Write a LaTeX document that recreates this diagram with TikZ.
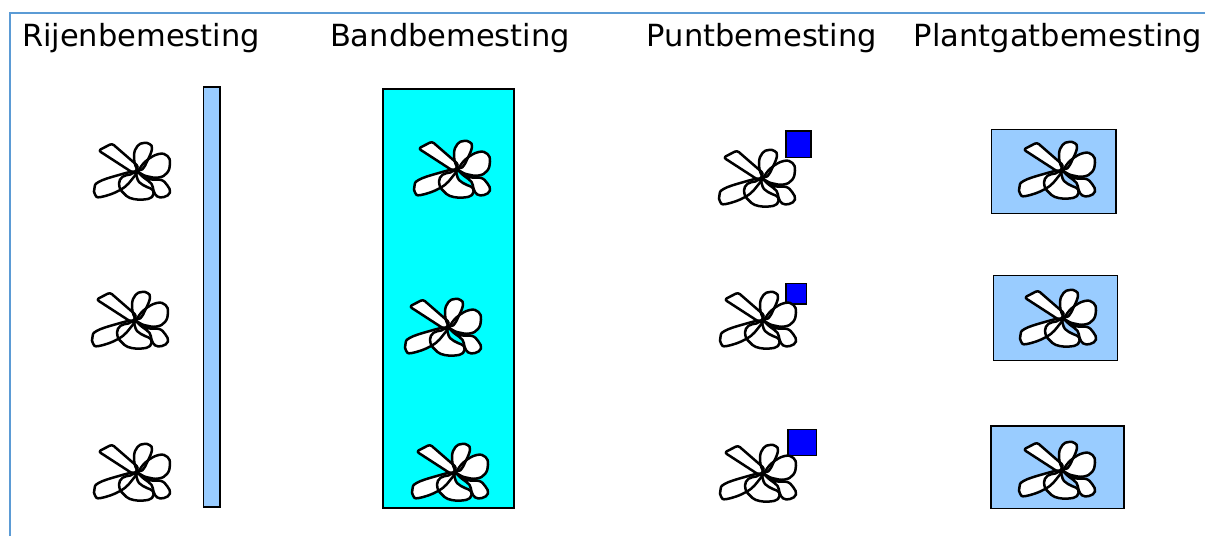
\documentclass[tikz,border=0pt]{standalone}
\usepackage{fontspec}
\setmainfont{DejaVu Sans}
\definecolor{framecol}{HTML}{5B9BD5}
\definecolor{lightblue}{HTML}{99CCFF}
\definecolor{bandcyan}{HTML}{00FFFF}
\definecolor{dotblue}{HTML}{0000FF}

% One plant: every part is filled white first, then all outlines are drawn
\newcommand\plantparts[1]{%
  #1[rounded corners=2.5pt] (-38.5,-20.5) -- (-25,-27.5) -- (1.5,-4.5) -- (-3,2.5) -- cycle;
  #1 plot[smooth cycle,tension=0.75] coordinates {(-42.5,17) (-38.5,11) (-20,4.5) (-1.5,0.5) (-4,7) (-16,18.5) (-36,26) (-42,23.5)};
  #1 plot[smooth cycle,tension=0.75] coordinates {(-0.5,-3) (-3,-15.5) (0.5,-25) (6.6,-28) (12.5,-27) (15,-22.4) (11,-11.5) (5,-1.5)};
  #1 plot[smooth cycle,tension=0.75] coordinates {(1.5,0) (9,-10) (21.6,-17) (30.5,-15) (33,-7.4) (30,2) (21.6,6.5) (11,5.5) (3.3,2.5)};
  #1 plot[smooth cycle,tension=0.75] coordinates {(-15.5,20) (-18,12.6) (-14.5,5.8) (-6.7,3.5) (-1.7,2.2) (2,11) (10,16) (16,19.3) (15,26) (6.6,28.5) (-3.4,28) (-10.5,25)};
  #1 plot[smooth cycle,tension=0.75] coordinates {(2.6,2) (13.3,8.2) (23.8,8.8) (30.3,14.3) (33,21.5) (27,26) (20,25.3) (16.5,19.5) (14.5,12.8) (6.6,6.5)};
}

\tikzset{
  x=1pt, y=-1pt,
  plant/.pic={\plantparts{\fill[white]}\plantparts{\draw[black,line width=2.5pt,line join=round]}},
  fert/.style={draw=black,line width=1.9pt},
  title/.style={anchor=base,font=\fontsize{30.5}{36}\selectfont,inner sep=0pt},
}

\begin{document}
\begin{tikzpicture}
\useasboundingbox (0,0) rectangle (1205,536);
\fill[white] (0,0) rectangle (1205,536);

% frame lines on the left and top
\draw[framecol,line width=1.8pt] (10,536) -- (10,13) -- (1205,13);

% column titles
\node[title] (t1) at (141,46) {Rijenbemesting};
\node[title] (t2) at (450,46) {Bandbemesting};
\node[title] (t3) at (762,46) {Puntbemesting};
\node[title] (t4) at (1058,46) {Plantgatbemesting};

% row fertilisation: a narrow strip
\draw[fert,fill=lightblue] (203.5,87) rectangle (220,507);
\pic at (137,171) {plant};
\pic at (135,320) {plant};
\pic at (137,472) {plant};

% band fertilisation: a wide band under the plants
\draw[fert,fill=bandcyan] (383,89) rectangle (514,508);
\pic at (457,169) {plant};
\pic at (448,327) {plant};
\pic at (455,472) {plant};

% spot fertilisation: a small square beside each plant
\draw[fert,fill=dotblue] (786,131) rectangle (811,157.5);
\draw[fert,fill=dotblue] (786,283.5) rectangle (806.5,304);
\draw[fert,fill=dotblue] (788,429.5) rectangle (816.5,455.5);
\pic at (762,178) {plant};
\pic at (763,320) {plant};
\pic at (763,473) {plant};

% planting-hole fertilisation: a box around each plant
\draw[fert,fill=lightblue] (991.5,129.5) rectangle (1116,213.5);
\draw[fert,fill=lightblue] (993.5,275.5) rectangle (1117.5,360.5);
\draw[fert,fill=lightblue] (991,426) rectangle (1124,508.5);
\pic at (1062,170) {plant};
\pic at (1063,318) {plant};
\pic at (1062,470) {plant};
\end{tikzpicture}
\end{document}
